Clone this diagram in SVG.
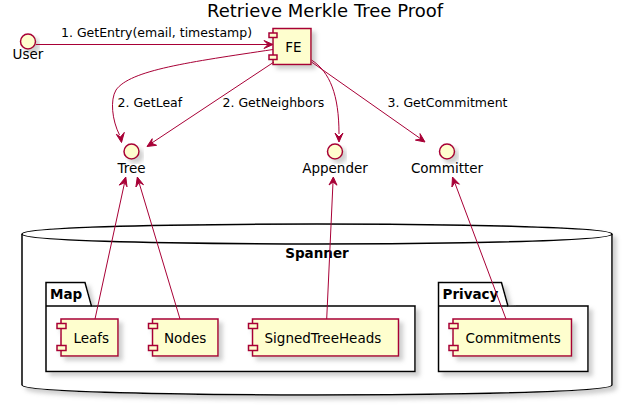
<svg xmlns="http://www.w3.org/2000/svg" width="623" height="406" viewBox="0 0 623 406">
<defs>
<filter id="sh" x="-20%" y="-20%" width="150%" height="150%">
<feGaussianBlur in="SourceAlpha" stdDeviation="2" result="b"/>
<feOffset in="b" dx="4" dy="4" result="o"/>
<feColorMatrix in="o" type="matrix" values="0 0 0 0 0.3  0 0 0 0 0.3  0 0 0 0 0.3  0 0 0 0.45 0" result="c"/>
<feMerge><feMergeNode in="c"/><feMergeNode in="SourceGraphic"/></feMerge>
</filter>
</defs>
<style>
text{font-family:"DejaVu Sans","Liberation Sans",sans-serif;fill:#000}
.t{font-size:18px}
.lbl{font-size:12.5px}
.nm{font-size:13.5px}
.bd{font-size:13.5px;font-weight:bold}
.comp{fill:#FEFECE;stroke:#A80036;stroke-width:1.5}
.ifc{fill:#FEFECE;stroke:#A80036;stroke-width:1.5}
.pkg{fill:#FFFFFF;stroke:#000;stroke-width:1.5}
.ln{fill:none;stroke:#A80036;stroke-width:1}
.ah{fill:#A80036;stroke:#A80036;stroke-width:1}
</style>
<rect width="623" height="406" fill="#fff"/>
<text class="t" x="325" y="17" text-anchor="middle">Retrieve Merkle Tree Proof</text>

<g id="spanner">
<path class="pkg" filter="url(#sh)" d="M22,234 C22,224 317,224 317,224 C317,224 612,224 612,234 L612,385 C612,395 317,395 317,395 C317,395 22,395 22,385 Z"/>
<path class="pkg" fill="none" d="M22,234 C22,244 317,244 317,244 C317,244 612,244 612,234"/>
<text class="bd" x="317" y="258" text-anchor="middle">Spanner</text>
</g>

<g id="map">
<path class="pkg" filter="url(#sh)" d="M46,306 L46,282.5 L85,282.5 L91.5,306 L415,306 L415,371.5 L46,371.5 Z"/>
<line x1="46" y1="306" x2="91.5" y2="306" stroke="#000" stroke-width="1.5"/>
<text class="bd" x="50" y="299">Map</text>
</g>

<g id="privacy">
<path class="pkg" filter="url(#sh)" d="M438.5,306 L438.5,282.5 L501.5,282.5 L508,306 L588,306 L588,371.5 L438.5,371.5 Z"/>
<line x1="438.5" y1="306" x2="508" y2="306" stroke="#000" stroke-width="1.5"/>
<text class="bd" x="442.5" y="299">Privacy</text>
</g>

<g id="user">
<circle class="ifc" filter="url(#sh)" cx="28" cy="41.5" r="7.5"/>
<text class="nm" x="28" y="59" text-anchor="middle">User</text>
</g>

<g id="fe">
<g filter="url(#sh)">
<rect class="comp" x="273" y="28.5" width="38" height="36"/>
<rect class="comp" x="269" y="33" width="8" height="4.5"/>
<rect class="comp" x="269" y="55" width="8" height="4.5"/>
</g>
<text class="nm" x="293.5" y="52" text-anchor="middle">FE</text>
</g>

<g id="tree">
<circle class="ifc" filter="url(#sh)" cx="131.5" cy="151.5" r="7.5"/>
<text class="nm" x="131.5" y="173" text-anchor="middle">Tree</text>
</g>

<g id="appender">
<circle class="ifc" filter="url(#sh)" cx="335" cy="151.5" r="7.5"/>
<text class="nm" x="335" y="173" text-anchor="middle">Appender</text>
</g>

<g id="committer">
<circle class="ifc" filter="url(#sh)" cx="447" cy="151.5" r="7.5"/>
<text class="nm" x="447" y="173" text-anchor="middle">Committer</text>
</g>

<g id="leafs">
<g filter="url(#sh)">
<rect class="comp" x="61" y="319" width="57" height="37"/>
<rect class="comp" x="57" y="323.5" width="9" height="5"/>
<rect class="comp" x="57" y="345.5" width="9" height="5"/>
</g>
<text class="nm" x="73.5" y="343">Leafs</text>
</g>

<g id="nodes">
<g filter="url(#sh)">
<rect class="comp" x="152.5" y="319" width="65.5" height="37"/>
<rect class="comp" x="148.5" y="323.5" width="9" height="5"/>
<rect class="comp" x="148.5" y="345.5" width="9" height="5"/>
</g>
<text class="nm" x="164" y="343">Nodes</text>
</g>

<g id="sth">
<g filter="url(#sh)">
<rect class="comp" x="252.5" y="319" width="146" height="37"/>
<rect class="comp" x="248.5" y="323.5" width="9" height="5"/>
<rect class="comp" x="248.5" y="345.5" width="9" height="5"/>
</g>
<text class="nm" x="264.5" y="343">SignedTreeHeads</text>
</g>

<g id="commitments">
<g filter="url(#sh)">
<rect class="comp" x="453" y="319" width="118.5" height="37"/>
<rect class="comp" x="449" y="323.5" width="9" height="5"/>
<rect class="comp" x="449" y="345.5" width="9" height="5"/>
</g>
<text class="nm" x="465.5" y="343">Commitments</text>
</g>

<g id="connectors">
<line class="ln" x1="36" y1="44.5" x2="268" y2="44.5"/>
<polygon class="ah" points="273,44.5 264,40.5 268,44.5 264,48.5"/>
<text class="lbl" x="61" y="37">1. GetEntry(email, timestamp)</text>

<path class="ln" d="M273,49.5 C190,62 130,70 116,90 C110,100 112,120 119.5,135"/>
<polygon class="ah" points="121.5,142.5 116.3,134.3 120.5,137 124.3,132.4"/>
<text class="lbl" x="117.5" y="107">2. GetLeaf</text>

<line class="ln" x1="274" y1="62" x2="151" y2="143.5"/>
<polygon class="ah" points="147,146.5 152.2,138.7 151.6,143.2 156.6,145.3"/>
<text class="lbl" x="222.5" y="107">2. GetNeighbors</text>

<path class="ln" d="M311.5,60 C330,72 339,95 339,134"/>
<polygon class="ah" points="339,142 335,133 339,137 343,133"/>

<line class="ln" x1="311.5" y1="62" x2="421" y2="139"/>
<polygon class="ah" points="425,142 415.4,140.1 420.7,139 420,133.6"/>
<text class="lbl" x="387.5" y="107">3. GetCommitment</text>

<line class="ln" x1="95" y1="319" x2="124.5" y2="183"/>
<polygon class="ah" points="125.8,177 127,186.8 124.8,182.6 119.2,185.1"/>

<line class="ln" x1="180" y1="319" x2="139" y2="182.5"/>
<polygon class="ah" points="137.3,177 143.5,184.7 139.2,182.4 135.9,187"/>

<line class="ln" x1="326.7" y1="319" x2="333" y2="182"/>
<polygon class="ah" points="333.3,177 337,185.2 333,182 329,185"/>

<line class="ln" x1="506" y1="319" x2="454.5" y2="182"/>
<polygon class="ah" points="452.5,177 459.4,184.2 454.9,182.4 451.9,187"/>
</g>
</svg>
